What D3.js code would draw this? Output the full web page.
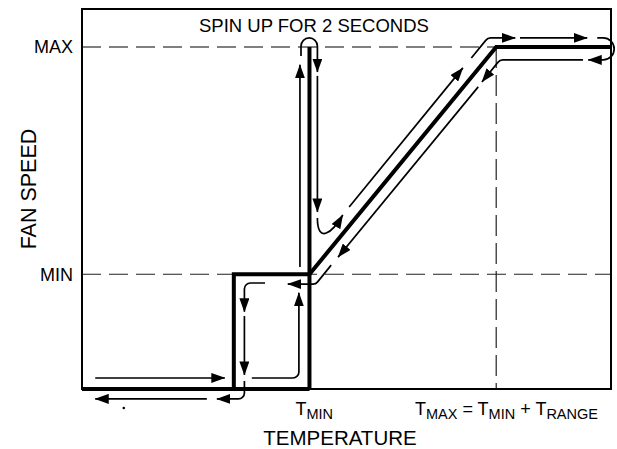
<!DOCTYPE html>
<html>
<head>
<meta charset="utf-8">
<script src="https://cdn.jsdelivr.net/npm/d3@7"></script>
<style>
body { margin: 0; background: #fff; }
svg { display: block; font-family: "Liberation Sans", Arial, Helvetica, sans-serif; }
</style>
</head>
<body>
<svg width="617" height="449"></svg>
<script>
/////////////////////////
// Data (temperature and fan speed, 0-100)
/////////////////////////

const speedLabels = ["MIN", "MAX"];
const speedValues = [30.2, 90];

const tempLow = 28.7;   // fan turns off below this
const tempMin = 43;     // T_MIN
const tempMax = 78.3;   // T_MAX = T_MIN + T_RANGE

// heavy transfer curve
const curveBottom = [[0, 0], [tempMin, 0]];
const curveBox = [[tempLow, 0], [tempLow, 30.2], [tempMin, 30.2], [tempMin, 0]];
const curveSpike = [[tempMin, 30.2], [tempMin, 90]];
const curveRamp = [[tempMin, 30.2], [tempMax, 90], [100, 90]];

// thin arrows (each ends with an arrow head)
const arrowPaths = [
    [[2.5, 2.9], [27.0, 2.9]],
    [[30.7, 2.1], [30.7, -2.6], [25.5, -2.6]],
    [[23.6, -2.6], [2.5, -2.6]],
    [[34.6, 27.9], [30.7, 27.9], [30.7, 20.3]],
    [[30.7, 19.2], [30.7, 3.7]],
    [[32.1, 2.9], [41.0, 2.9], [41.0, 25.3]],
    [[47.1, 32.6], [44.2, 27.6], [38.9, 27.6]],
    [[41.2, 32.1], [41.2, 85.3]],
    [[44.5, 82.4], [44.5, 46.6]],
    [[50.5, 47.9], [72.0, 84.5]],
    [[73.6, 87.1], [76.7, 92.4], [81.9, 92.4]],
    [[82.8, 92.4], [95.5, 92.4]],
    [[94.7, 86.6], [79.0, 86.6], [75.6, 80.8]],
    [[74.9, 79.5], [48.4, 34.7]]
];
// turn-around loops
const loopPaths = [
    [[41.4, 87.6], [41.4, 92.4], [44.5, 92.4], [44.5, 83.4]],
    [[97.4, 92.4], [100.6, 92.4], [100.6, 86.6], [95.7, 86.6]]
];
// hook after spin up (start, control 1, control 2, end)
const spinHook = [[44.5, 45.0], [44.5, 37.9], [47.4, 41.3], [49.3, 45.8]];
const strayDot = [[7.9, -5]];

/////////////////////////
// Scales
/////////////////////////

var svg = d3.select("svg");
var x = d3.scaleLinear().domain([0, 100]).range([82, 611]);
var y = d3.scaleLinear().domain([0, 100]).range([389, 9]);

svg.append("defs").append("marker")
    .attr("id", "head")
    .attr("viewBox", "0 0 14 10")
    .attr("refX", 13.5).attr("refY", 5)
    .attr("markerWidth", 14).attr("markerHeight", 10)
    .attr("markerUnits", "userSpaceOnUse")
    .attr("orient", "auto")
    .append("path").attr("d", "M0,0L14,5L0,10Z").attr("fill", "#000");

function dist(a, b){ return Math.hypot(a[0] - b[0], a[1] - b[1]); }

// polyline with rounded corners
function rounded(pts, R){
    var q = pts.map(d => [x(d[0]), y(d[1])]);
    var p = d3.path();
    p.moveTo(q[0][0], q[0][1]);
    for (var i = 1; i < q.length - 1; i++) {
	var a = dist(q[i - 1], q[i]), b = dist(q[i], q[i + 1]);
	var r = Math.min(R, i == 1 ? a : a / 2, i == q.length - 2 ? b : b / 2);
	p.arcTo(q[i][0], q[i][1], q[i + 1][0], q[i + 1][1], r);
    }
    var e = q[q.length - 1];
    p.lineTo(e[0], e[1]);
    return p.toString();
}

/////////////////////////
// Guides
/////////////////////////

svg.append("line")
    .attr("x1", x(0)).attr("x2", x(tempMax))
    .attr("y1", y(speedValues[1])).attr("y2", y(speedValues[1]))
    .attr("stroke", "#555").attr("stroke-width", 1.3)
    .attr("stroke-dasharray", "19,8");

svg.append("line")
    .attr("x1", x(0)).attr("x2", x(100))
    .attr("y1", y(speedValues[0])).attr("y2", y(speedValues[0]))
    .attr("stroke", "#222").attr("stroke-width", 1.2)
    .attr("stroke-dasharray", "19,8");

svg.append("line")
    .attr("x1", x(tempMax)).attr("x2", x(tempMax))
    .attr("y1", y(speedValues[1])).attr("y2", y(0))
    .attr("stroke", "#222").attr("stroke-width", 1.2)
    .attr("stroke-dasharray", "21,7");

// frame
svg.append("rect")
    .attr("x", x(0)).attr("y", y(100))
    .attr("width", x(100) - x(0)).attr("height", y(0) - y(100))
    .attr("fill", "none").attr("stroke", "#000").attr("stroke-width", 2);

/////////////////////////
// Transfer curve
/////////////////////////

var line = d3.line().x(d => x(d[0])).y(d => y(d[1]));

svg.append("g")
    .selectAll("path")
    .data([curveBottom, curveBox, curveSpike, curveRamp])
    .enter().append("path")
    .attr("d", line)
    .attr("fill", "none").attr("stroke", "#000")
    .attr("stroke-width", 4).attr("stroke-linejoin", "miter");

/////////////////////////
// Arrows
/////////////////////////

var arrows = svg.append("g")
    .attr("fill", "none").attr("stroke", "#000").attr("stroke-width", 1.7);

arrows.selectAll(".arrow")
    .data(arrowPaths)
    .enter().append("path")
    .attr("class", "arrow")
    .attr("d", d => rounded(d, 6))
    .attr("marker-end", "url(#head)");

arrows.selectAll(".loop")
    .data(loopPaths)
    .enter().append("path")
    .attr("class", "loop")
    .attr("d", d => rounded(d, 12))
    .attr("marker-end", "url(#head)");

var hp = d3.path();
var hq = spinHook.map(d => [x(d[0]), y(d[1])]);
hp.moveTo(hq[0][0], hq[0][1]);
hp.bezierCurveTo(hq[1][0], hq[1][1], hq[2][0], hq[2][1], hq[3][0], hq[3][1]);
arrows.append("path")
    .attr("d", hp.toString())
    .attr("marker-end", "url(#head)");

svg.selectAll(".dot")
    .data(strayDot)
    .enter().append("circle")
    .attr("class", "dot")
    .attr("cx", d => x(d[0])).attr("cy", d => y(d[1]))
    .attr("r", 1.3).attr("fill", "#000");

/////////////////////////
// Labels
/////////////////////////

svg.selectAll(".speed")
    .data(speedLabels)
    .enter().append("text")
    .attr("class", "speed")
    .attr("x", 73)
    .attr("y", (d, i) => y(speedValues[i]))
    .attr("dy", "0.35em")
    .attr("text-anchor", "end")
    .attr("font-size", "18px")
    .text(d => d);

svg.append("text")
    .attr("x", 199).attr("y", 32)
    .attr("font-size", "18.5px")
    .text("SPIN UP FOR 2 SECONDS");

function sublabel(parts, tx){
    var t = svg.append("text")
	.attr("x", tx).attr("y", 415)
	.attr("font-size", "18px");
    parts.forEach(function(s){
	var ts = t.append("tspan").text(s[0]);
	if (s[1]) ts.attr("font-size", "14.5px").attr("dy", 4);
	else ts.attr("dy", s[2] ? -4 : 0);
    });
}

sublabel([["T"], ["MIN", 1]], x(tempMin) - 14);
sublabel([["T"], ["MAX", 1], [" = T", 0, 1], ["MIN", 1], [" + T", 0, 1], ["RANGE", 1]], 415);

svg.append("text")
    .attr("x", 340).attr("y", 445)
    .attr("text-anchor", "middle")
    .attr("font-size", "20.5px")
    .text("TEMPERATURE");

svg.append("text")
    .attr("transform", "translate(36,189) rotate(-90)")
    .attr("text-anchor", "middle")
    .attr("font-size", "21.5px")
    .text("FAN SPEED");
</script>
</body>
</html>
